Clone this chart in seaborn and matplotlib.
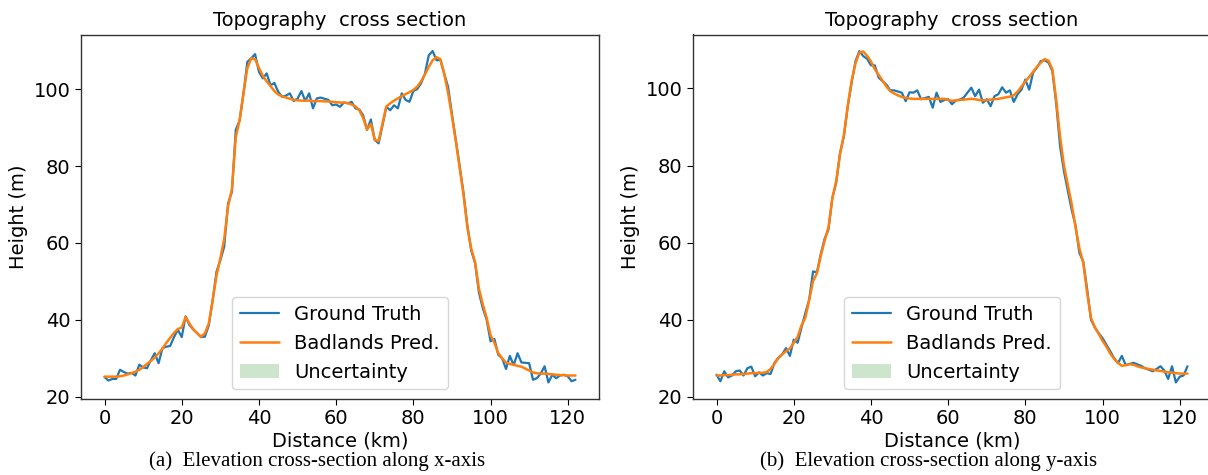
import numpy as np
import pandas as pd
import matplotlib
matplotlib.use("Agg")
import matplotlib.pyplot as plt
import seaborn as sns

# ---------------- data ----------------
distance_km = list(range(0, 123))

x_truth = [25.1, 24.2, 24.6, 24.6, 27.0, 26.4, 26.0, 26.2, 25.5, 28.3,
           27.6, 27.4, 29.5, 31.3, 28.7, 32.6, 33.0, 33.2, 35.5, 37.4,
           35.5, 40.9, 38.6, 37.5, 36.5, 35.5, 35.6, 38.5, 45.0, 52.5,
           55.5, 59.0, 70.3, 73.3, 89.4, 91.9, 98.9, 107.1, 108.0, 109.1,
           104.5, 102.8, 104.1, 101.0, 101.6, 99.3, 98.0, 98.3, 98.9, 96.9,
           97.5, 99.5, 96.9, 98.9, 95.0, 97.6, 97.8, 97.5, 97.2, 95.8,
           96.0, 95.4, 96.5, 96.3, 96.7, 95.0, 94.7, 93.2, 89.4, 92.1,
           86.8, 85.9, 90.5, 95.4, 94.5, 95.8, 95.0, 98.9, 97.2, 96.7,
           99.5, 100.0, 101.5, 104.0, 108.8, 109.9, 107.5, 107.6, 104.0, 100.6,
           93.5, 86.8, 80.0, 73.0, 64.5, 58.0, 54.7, 47.0, 43.0, 40.0,
           34.4, 35.0, 30.9, 30.0, 27.2, 30.6, 28.2, 31.3, 28.9, 28.8,
           28.7, 24.4, 24.8, 26.0, 27.9, 23.7, 25.7, 24.8, 25.5, 25.7,
           25.3, 24.0, 24.4]

x_pred = [25.2, 25.2, 25.2, 25.2, 25.3, 25.5, 25.8, 26.1, 26.5, 27.0,
          27.7, 28.5, 29.3, 30.2, 31.3, 32.5, 34.0, 35.3, 36.6, 37.6,
          38.0, 40.7, 39.0, 37.5, 36.5, 35.6, 36.5, 39.0, 45.0, 51.5,
          56.0, 61.0, 69.5, 74.0, 87.5, 92.0, 99.0, 105.5, 108.0, 107.8,
          105.5, 103.5, 102.0, 100.8, 99.5, 98.6, 98.1, 97.8, 97.5, 97.2,
          97.1, 97.0, 97.0, 97.0, 96.9, 96.9, 96.9, 96.8, 96.8, 96.7,
          96.6, 96.5, 96.5, 96.4, 96.0, 95.5, 94.5, 92.5, 89.5, 91.0,
          86.8, 86.5, 91.0, 95.5, 96.3, 97.0, 97.6, 98.2, 98.7, 99.2,
          99.8, 100.6, 102.0, 103.8, 105.8, 107.5, 108.3, 107.8, 104.0, 99.0,
          93.0, 86.5, 79.5, 72.5, 64.0, 58.5, 55.0, 48.0, 44.0, 40.5,
          36.0, 34.0, 31.3, 30.0, 28.9, 28.5, 28.3, 28.0, 27.8, 27.3,
          26.8, 26.3, 26.1, 26.0, 26.0, 25.9, 25.8, 25.7, 25.6, 25.6,
          25.5, 25.5, 25.5]

y_truth = [25.7, 24.0, 26.6, 25.0, 25.5, 26.6, 26.8, 25.5, 27.4, 27.8,
           25.3, 26.3, 25.5, 26.1, 25.9, 28.8, 30.1, 31.0, 32.6, 30.6,
           34.8, 34.0, 37.9, 41.7, 45.2, 52.5, 52.3, 57.0, 61.0, 63.4,
           71.6, 75.5, 83.3, 87.6, 95.4, 101.5, 107.1, 109.7, 108.4, 107.7,
           106.0, 106.0, 102.8, 101.9, 101.0, 99.5, 99.5, 99.2, 98.9, 96.7,
           99.0, 98.9, 99.5, 97.2, 97.5, 97.8, 95.0, 98.9, 96.5, 97.0,
           97.2, 95.9, 96.9, 97.1, 97.6, 98.9, 100.2, 98.0, 99.7, 96.3,
           97.2, 95.4, 98.0, 98.5, 100.3, 98.9, 99.5, 96.5, 98.5, 99.7,
           102.3, 99.7, 104.1, 105.4, 107.1, 107.3, 106.7, 104.5, 96.0, 85.0,
           78.5, 73.5, 68.5, 64.5, 57.3, 55.1, 48.0, 40.0, 38.0, 36.5,
           35.2, 33.5, 31.8, 30.0, 28.7, 30.6, 28.2, 28.5, 28.8, 28.4,
           28.0, 27.4, 27.0, 26.6, 27.2, 27.9, 26.8, 24.6, 27.9, 23.7,
           25.2, 25.5, 27.9]

y_pred = [25.5, 25.5, 25.6, 25.6, 25.7, 25.8, 25.8, 25.9, 26.0, 26.1,
          26.1, 26.2, 26.2, 26.4, 27.2, 28.5, 30.0, 31.0, 31.8, 32.5,
          34.0, 35.5, 38.5, 40.5, 45.0, 50.0, 52.0, 56.5, 60.5, 64.0,
          71.5, 76.0, 83.0, 88.0, 95.5, 102.0, 106.5, 109.3, 109.6, 108.5,
          107.0, 105.0, 103.5, 102.0, 100.5, 99.3, 98.7, 98.2, 97.8, 97.5,
          97.4, 97.3, 97.3, 97.3, 97.3, 97.3, 97.3, 97.3, 97.3, 97.3,
          97.0, 96.8, 96.9, 97.0, 97.1, 97.2, 97.3, 97.2, 97.0, 96.9,
          97.0, 97.1, 97.2, 97.3, 97.5, 97.7, 97.9, 98.2, 99.2, 100.5,
          101.8, 103.0, 104.3, 105.6, 106.7, 107.6, 107.2, 105.0, 97.0, 87.5,
          80.0, 75.0, 70.0, 64.0, 58.5, 54.7, 47.0, 40.5, 38.0, 36.3,
          34.5, 33.0, 31.2, 29.8, 28.8, 28.0, 28.2, 28.4, 28.3, 27.9,
          27.6, 27.4, 27.2, 27.0, 26.8, 26.7, 26.5, 26.3, 26.2, 26.1,
          26.0, 26.0, 26.0]

title_text = "Topography  cross section"
x_label = "Distance (km)"
y_label = "Height (m)"
series_labels = ["Ground Truth", "Badlands Pred.", "Uncertainty"]
captions = ["(a)  Elevation cross-section along x-axis",
            "(b)  Elevation cross-section along y-axis"]

# ---------------- plot ----------------
sns.set_style("ticks")
plt.rcParams["font.family"] = ["DejaVu Sans"]
plt.rcParams["axes.edgecolor"] = "#333333"
plt.rcParams["text.color"] = "black"
plt.rcParams["axes.labelcolor"] = "black"
plt.rcParams["xtick.color"] = "black"
plt.rcParams["ytick.color"] = "black"

fig = plt.figure(figsize=(12.08, 4.75), dpi=100)
ax_l = fig.add_axes([81 / 1208, 76 / 475, 518 / 1208, 364.5 / 475])
ax_r = fig.add_axes([693 / 1208, 76 / 475, 518 / 1208, 364.5 / 475])

for ax, truth, pred in [(ax_l, x_truth, x_pred), (ax_r, y_truth, y_pred)]:
    df = pd.DataFrame({"d": distance_km, "truth": truth, "pred": pred})
    sns.lineplot(data=df, x="d", y="truth", ax=ax, color="tab:blue",
                 linewidth=1.6, label=series_labels[0])
    sns.lineplot(data=df, x="d", y="pred", ax=ax, color="tab:orange",
                 linewidth=1.8, label=series_labels[1])
    ax.fill_between(df["d"], df["pred"], df["pred"], color="green",
                    alpha=0.2, linewidth=0, label=series_labels[2])
    ax.set_title(title_text, fontsize=14)
    ax.set_xlabel(x_label, fontsize=14, labelpad=2)
    ax.set_ylabel(y_label, fontsize=14)
    ax.tick_params(labelsize=14, length=4, width=0.8)
    ax.set_xticks([0, 20, 40, 60, 80, 100, 120])
    ax.set_yticks([20, 40, 60, 80, 100])
    for s in ax.spines.values():
        s.set_linewidth(1.0)
    ax.legend(loc="lower center", fontsize=14, frameon=True, framealpha=0.8,
              edgecolor="#cccccc", fancybox=True, handlelength=2.0)

fig.text(317 / 1208, 14 / 475, captions[0], ha="center", va="center",
         fontsize=15, family=["Liberation Serif", "DejaVu Serif"])
fig.text(929 / 1208, 14 / 475, captions[1], ha="center", va="center",
         fontsize=15, family=["Liberation Serif", "DejaVu Serif"])

fig.savefig("out.png", dpi=100)
